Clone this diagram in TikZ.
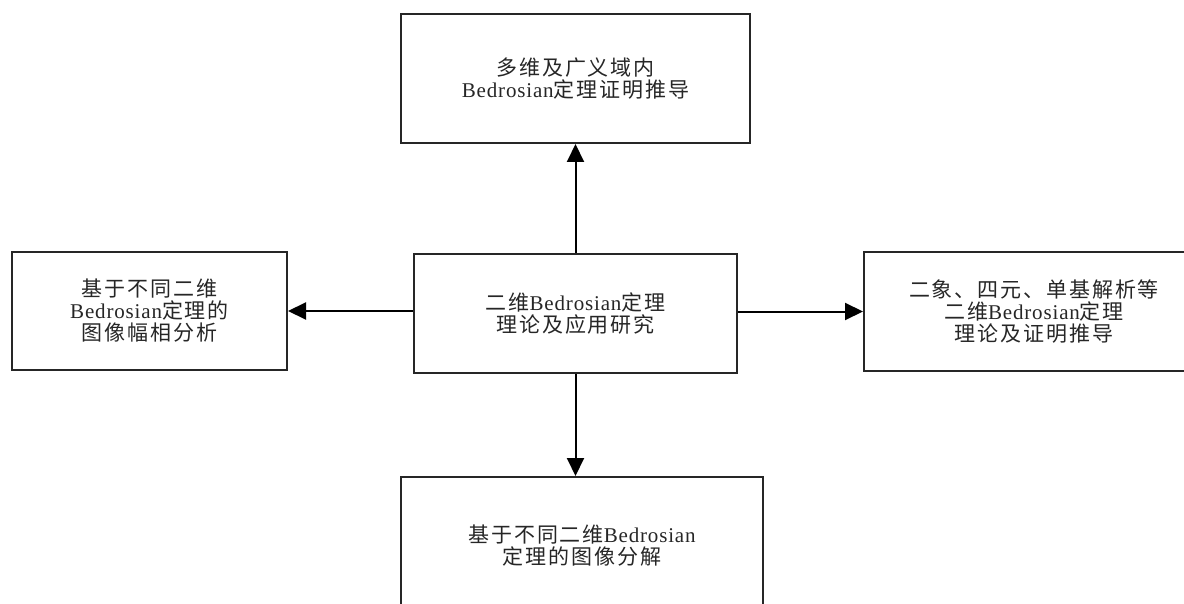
\documentclass[tikz,border=0pt]{standalone}
\usepackage{fontspec}
\setmainfont{Liberation Serif}[LetterSpace=4]
\newfontfamily\zh{Noto Sans CJK SC}[LetterSpace=9]
\usetikzlibrary{arrows.meta}
\begin{document}
\begin{tikzpicture}[x=1pt,y=-1pt,
  box/.style={draw=black!85,line width=2pt,rectangle,align=center,inner sep=0pt,
    font=\fontsize{21}{22}\selectfont,text=black!85},
  arr/.style={draw=black,line width=2pt,-{Triangle[length=18pt,width=17pt]}}]
\useasboundingbox (0,0) rectangle (1184,604);
\node[box,minimum width=323pt,minimum height=119pt] (c) at (575.5,313.5)
  {{\zh 二维}Bedrosian{\zh 定理}\\{\zh 理论及应用研究}};
\node[box,minimum width=349pt,minimum height=129pt] (t) at (575.5,78.5)
  {{\zh 多维及广义域内}\\Bedrosian{\zh 定理证明推导}};
\node[box,minimum width=275pt,minimum height=118pt] (l) at (149.5,311)
  {{\zh 基于不同二维}\\Bedrosian{\zh 定理的}\\{\zh 图像幅相分析}};
\node[box,minimum width=340pt,minimum height=118pt] (r) at (1034,311.5)
  {{\zh 二象、四元、单基解析等}\\{\zh 二维}Bedrosian{\zh 定理}\\{\zh 理论及证明推导}};
\node[box,minimum width=362pt,minimum height=138pt] (b) at (582,546)
  {{\zh 基于不同二维}Bedrosian\\{\zh 定理的图像分解}};
\draw[arr] (c.north) -- (t.south);
\draw[arr] (c.west |- l.east) -- (l.east);
\draw[arr] (c.east |- r.west) -- (r.west);
\draw[arr] (c.south) -- (c.south |- b.north);
\end{tikzpicture}
\end{document}
